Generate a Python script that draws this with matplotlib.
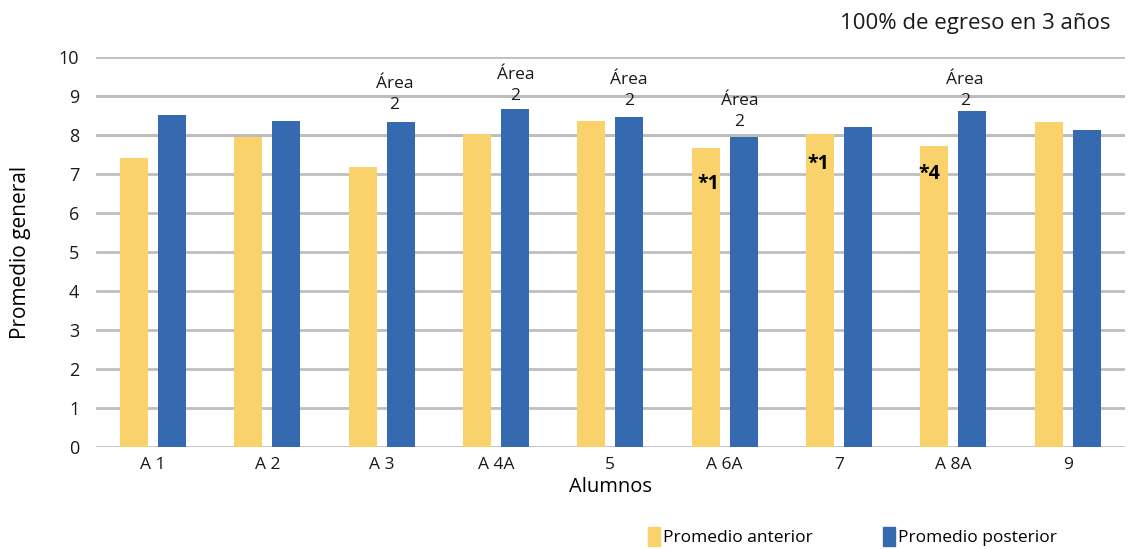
import matplotlib
matplotlib.use("Agg")
import matplotlib.pyplot as plt
import numpy as np
from matplotlib.patches import Patch

plt.rcParams['font.family'] = ['Open Sans', 'DejaVu Sans']

categories = ["A 1", "A 2", "A 3", "A 4A", "5", "A 6A", "7", "A 8A", "9"]
prom_anterior = [7.41, 7.94, 7.18, 8.02, 8.35, 7.68, 8.02, 7.73, 8.33]
prom_posterior = [8.51, 8.35, 8.33, 8.66, 8.46, 7.94, 8.20, 8.61, 8.12]

area_idx = [2, 3, 4, 5, 7]
area_y = [9.05, 9.27, 9.15, 8.61, 9.15]
area_dx = [0.11, 0.17, 0.16, 0.13, 0.10]

star_idx = [5, 6, 7]
star_text = ["*1", "*1", "*4"]
star_y = [6.74, 7.25, 6.99]
star_dx = [-0.14, -0.18, -0.21]

yellow = "#F9D26C"
blue = "#356AB0"

fig = plt.figure(figsize=(11.33, 5.49), dpi=100)
ax = fig.add_axes([0.0847, 0.186, 0.908, 0.710])

x = np.arange(len(categories))
w = 0.245
off = 0.166
ax.bar(x - off, prom_anterior, w, color=yellow, zorder=3)
ax.bar(x + off, prom_posterior, w, color=blue, zorder=3)

ax.set_ylim(0, 10)
ax.set_xlim(-0.5, len(categories) - 0.5)
ax.set_yticks(range(0, 11))
ax.set_xticks(x)
ax.set_xticklabels(categories)
ax.tick_params(axis='y', length=0, labelsize=13, colors='#1a1a1a', pad=12)
ax.tick_params(axis='x', length=0, labelsize=12.5, colors='#1a1a1a', pad=7)
for s in ax.spines.values():
    s.set_visible(False)
ax.yaxis.grid(True, color='#bfbfbf', linewidth=2, zorder=0)
for yv in (8, 9):
    ax.axhline(yv, color='#9a9a9a', linewidth=2, zorder=1)

ax.set_xlabel("Alumnos", fontsize=14.5, labelpad=3)
ax.set_ylabel("Promedio general", fontsize=15, labelpad=20)

for i, yy, dx in zip(area_idx, area_y, area_dx):
    ax.text(i + dx, yy, "Área\n2", ha='center', va='center', fontsize=12.5,
            linespacing=1.4, color='#1a1a1a', zorder=4)

for i, t, yy, dx in zip(star_idx, star_text, star_y, star_dx):
    ax.text(i + dx, yy, t, ha='center', va='center', fontsize=14,
            fontweight='bold', color='black', zorder=4)

fig.text(0.98, 0.958, "100% de egreso en 3 años", ha='right', va='center',
         fontsize=16, color='#1a1a1a')

handles = [Patch(color=yellow, label="Promedio anterior"),
           Patch(color=blue, label="Promedio posterior")]
fig.legend(handles=handles, loc='center left', bbox_to_anchor=(0.558, 0.022),
           ncol=2, frameon=False, fontsize=12.5, handlelength=0.7,
           handleheight=1.25, handletextpad=0.2, columnspacing=4.0)

fig.savefig("out.png", dpi=100)
